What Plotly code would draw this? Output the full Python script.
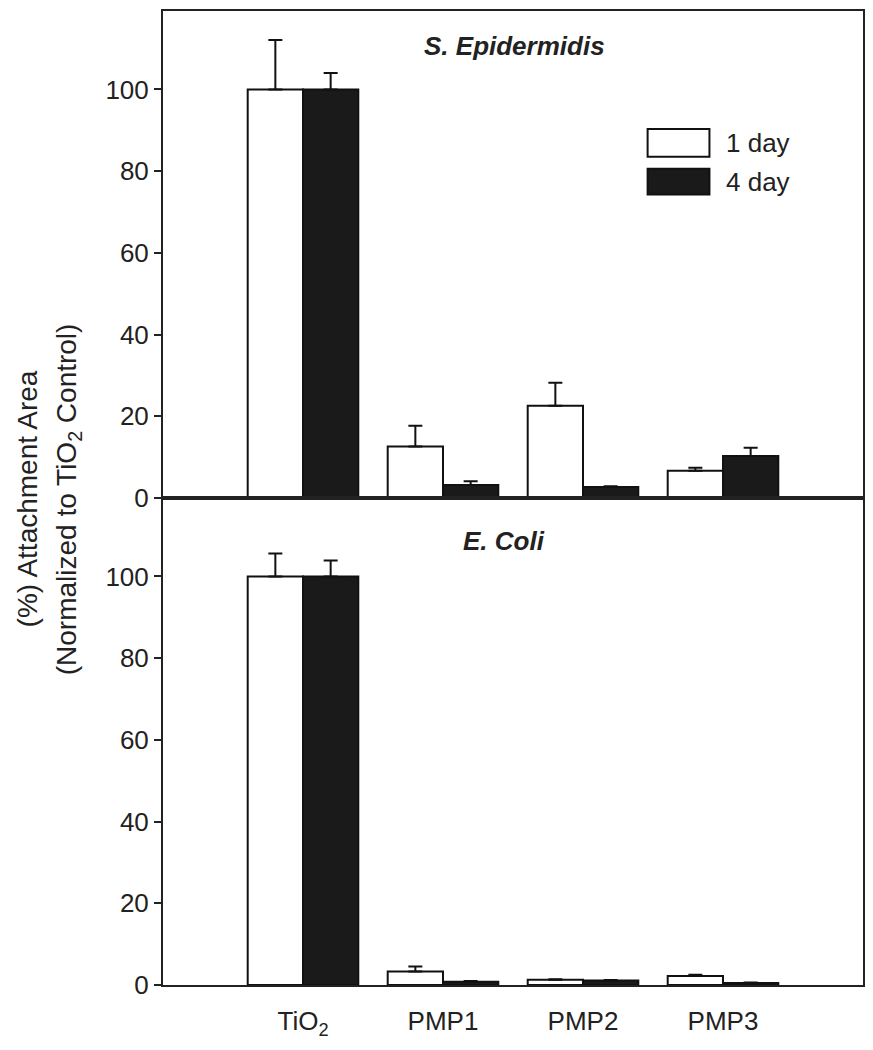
import plotly.graph_objects as go
from plotly.subplots import make_subplots

categories = ["TiO<sub>2</sub>", "PMP1", "PMP2", "PMP3"]
series_names = ["1 day", "4 day"]

# S. Epidermidis (top panel)
se_1day = [100, 12.6, 22.6, 6.7]
se_1day_err = [12.1, 5.1, 5.6, 0.7]
se_4day = [100, 3.2, 2.7, 10.3]
se_4day_err = [4.0, 0.9, 0.2, 2.0]

# E. Coli (bottom panel)
ec_1day = [100, 3.3, 1.3, 2.2]
ec_1day_err = [5.6, 1.2, 0.1, 0.3]
ec_4day = [100, 0.8, 1.1, 0.5]
ec_4day_err = [3.9, 0.2, 0.1, 0.1]

panel_titles = ["S. Epidermidis", "E. Coli"]
y_ticks = [0, 20, 40, 60, 80, 100]

FONT = "Liberation Sans, Arial, sans-serif"
WHITE = "#ffffff"
BLACK = "#1a1a1a"
xpos = list(range(len(categories)))

fig = make_subplots(rows=2, cols=1, shared_xaxes=True, vertical_spacing=0)


def add_bars(row, v1, e1, v4, e4):
    for vals, errs, fill in ((v1, e1, WHITE), (v4, e4, BLACK)):
        fig.add_trace(
            go.Bar(
                x=xpos,
                y=vals,
                marker=dict(color=fill, line=dict(color="#111", width=2)),
                error_y=dict(
                    type="data",
                    symmetric=False,
                    array=errs,
                    arrayminus=[0] * len(errs),
                    color="#111",
                    thickness=2,
                    width=7,
                ),
                showlegend=False,
            ),
            row=row,
            col=1,
        )


add_bars(1, se_1day, se_1day_err, se_4day, se_4day_err)
add_bars(2, ec_1day, ec_1day_err, ec_4day, ec_4day_err)

axis_common = dict(
    showline=True, linecolor="#222", linewidth=2, mirror=True, showgrid=False, zeroline=False
)

for r in (1, 2):
    fig.update_yaxes(
        range=[0, 119.2],
        tickvals=y_ticks,
        ticks="outside",
        ticklen=7,
        tickwidth=2,
        tickcolor="#222",
        tickfont=dict(family=FONT, size=26, color="#222"),
        row=r,
        col=1,
        **axis_common,
    )
    fig.update_xaxes(
        range=[-1, 4],
        tickvals=xpos,
        ticktext=categories,
        ticks="",
        ticklabelstandoff=12,
        showticklabels=(r == 2),
        tickfont=dict(family=FONT, size=26, color="#222"),
        row=r,
        col=1,
        **axis_common,
    )

fig.update_layout(
    width=858,
    height=1033,
    margin=dict(l=155, r=1, t=2, b=49),
    plot_bgcolor="white",
    paper_bgcolor="white",
    barmode="group",
    bargap=0.21,
    bargroupgap=0,
    showlegend=False,
    font=dict(family=FONT, color="#222"),
)

# page-pixel -> paper helpers (plot area spans x 163..865, y 10..992 on the page)
W, H = 702.0, 982.0


def px_x(p):
    return (p - 163) / W


def px_y(p):
    return (992 - p) / H


# Panel titles
fig.add_annotation(
    text="<b><i>" + panel_titles[0] + "</i></b>", xref="paper", yref="paper",
    x=px_x(423), y=px_y(28), xanchor="left", yanchor="top", showarrow=False,
    font=dict(family=FONT, size=26, color="#222"),
)
fig.add_annotation(
    text="<b><i>" + panel_titles[1] + "</i></b>", xref="paper", yref="paper",
    x=px_x(462), y=px_y(527), xanchor="left", yanchor="top", showarrow=False,
    font=dict(family=FONT, size=26, color="#222"),
)

# Y axis title (two lines)
fig.add_annotation(
    text="(%) Attachment Area", xref="paper", yref="paper",
    x=px_x(28), y=px_y(502), xanchor="center", yanchor="middle",
    textangle=-90, showarrow=False, font=dict(family=FONT, size=28, color="#222"),
)
fig.add_annotation(
    text="(Normalized to TiO<sub>2</sub> Control)", xref="paper", yref="paper",
    x=px_x(69), y=px_y(502), xanchor="center", yanchor="middle",
    textangle=-90, showarrow=False, font=dict(family=FONT, size=28, color="#222"),
)

# Legend (drawn boxes)
legend_boxes = [(129, 157, WHITE), (169, 195, BLACK)]
for (top, bot, fill), name in zip(legend_boxes, series_names):
    fig.add_shape(
        type="rect", xref="paper", yref="paper",
        x0=px_x(649), x1=px_x(711), y0=px_y(bot), y1=px_y(top),
        fillcolor=fill, line=dict(color="#111", width=2),
    )
    fig.add_annotation(
        text=name, xref="paper", yref="paper",
        x=px_x(726), y=px_y((top + bot) / 2), xanchor="left", yanchor="middle",
        showarrow=False, font=dict(family=FONT, size=26, color="#222"),
    )

fig.write_html("out.html")
